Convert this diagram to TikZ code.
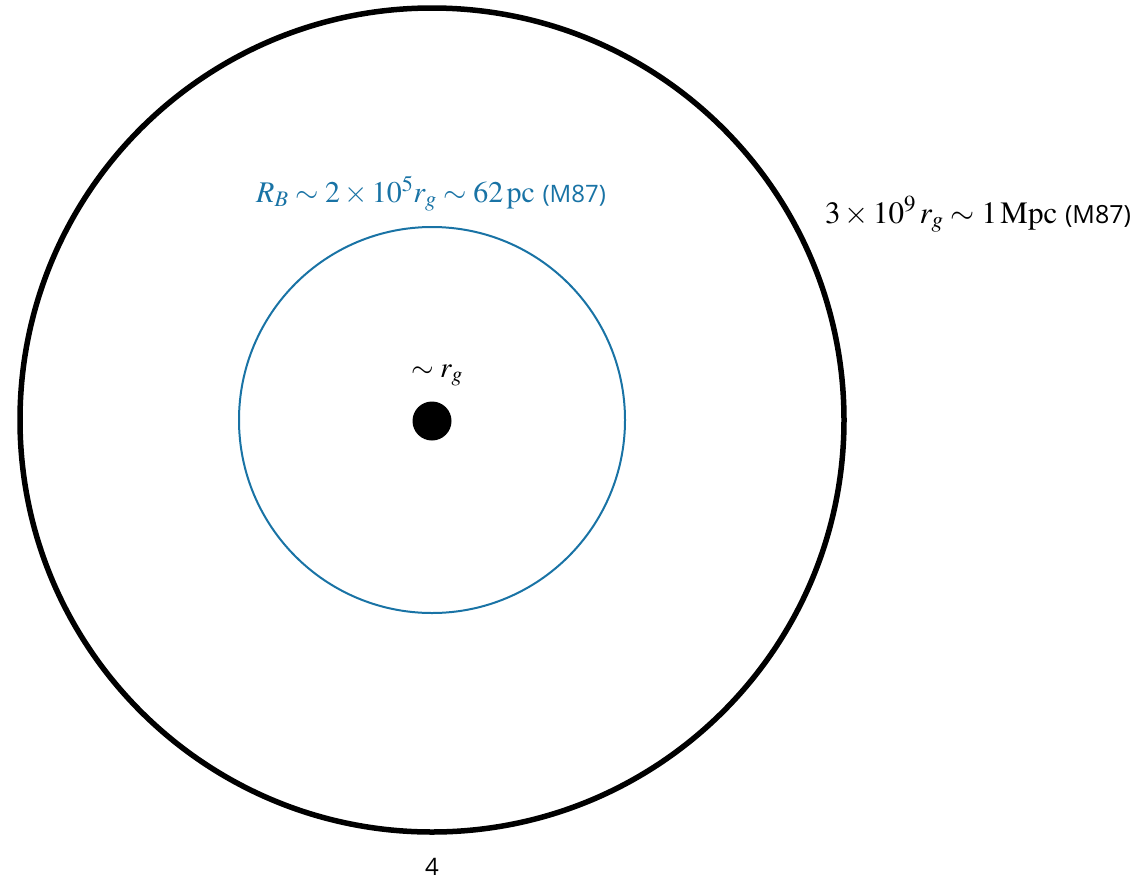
\documentclass[tikz,border=0pt]{standalone}
\usepackage{mathptmx}
\usepackage{fontspec}
\setmainfont{Liberation Serif}
\setsansfont{Open Sans}
\usepackage{tikz}
\usepackage{xcolor}
\usetikzlibrary{positioning}
\definecolor{bondiblue}{RGB}{25,115,165}

\begin{document}
\begin{tikzpicture}[x=1pt,y=-1pt,
halo/.style={draw,circle,line width=5.5pt,minimum size=824pt,inner sep=0pt},
bondi/.style={draw=bondiblue,circle,line width=2pt,minimum size=386pt,inner sep=0pt},
hole/.style={fill,circle,minimum size=39pt,inner sep=0pt},
lab/.style={anchor=base,inner sep=0pt,font=\fontsize{#1}{#1}\selectfont},
lab/.default=29]
\useasboundingbox (0,0) rectangle (1142,881);
\node[halo] (halo) at (432,420) {};
\node[bondi] (bondi) at (432,420) {};
\node[hole] (bh) at (432,421) {};
\node[lab] (rg) at (437,377) {$\sim r_g$};
\node[lab=30,text=bondiblue] (rb) at (431,202) {$R_B\sim 2\times10^5r_g\sim 62\,\mathrm{pc}$ {\sffamily\fontsize{24}{24}\selectfont(M87)}};
\node[lab=31] (mpc) at (978,223) {$3\times10^9\,r_g\sim 1\,\mathrm{Mpc}$ {\sffamily\fontsize{25}{25}\selectfont(M87)}};
\node[anchor=base,inner sep=0pt,font=\sffamily\fontsize{24}{24}\selectfont] (page) at (432,875) {4};
\end{tikzpicture}
\end{document}
